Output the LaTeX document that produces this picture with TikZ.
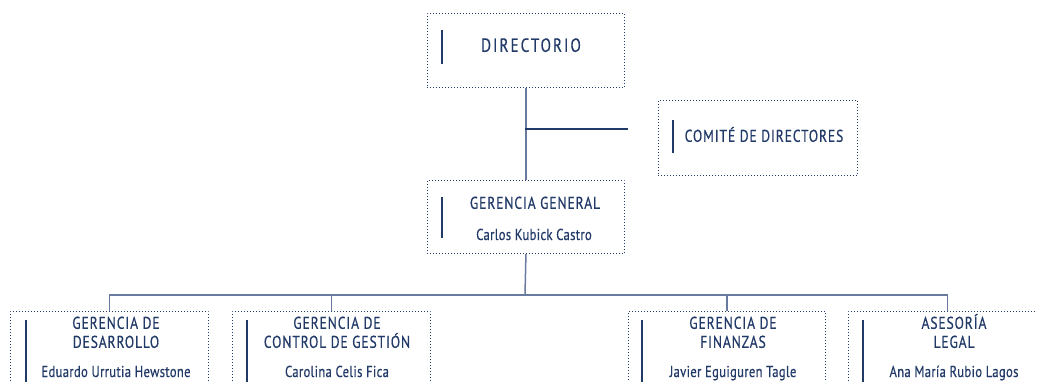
\documentclass[tikz,border=0pt]{standalone}
\usepackage{fontspec}
\setmainfont{PT Sans}[FakeStretch=0.80, FakeBold=0.5]
\usetikzlibrary{positioning}
\definecolor{navyblue}{RGB}{34,58,104}
\definecolor{linkgray}{RGB}{104,122,158}

\tikzset{
    unit/.style={draw=navyblue, line width=0.9pt, dash pattern=on 0.9pt off 2.1pt,
        minimum width=197pt, minimum height=74pt, inner sep=0pt, anchor=north west},
    title/.style={text=navyblue, inner sep=0pt, text depth=0pt, anchor=south, align=center,
        font=\fontsize{17}{19}\selectfont\addfontfeature{LetterSpace=5}},
    person/.style={text=navyblue, inner sep=0pt, anchor=base,
        font=\fontsize{15.8}{17}\selectfont\addfontfeature{LetterSpace=2}},
    bar/.style={draw=navyblue, line width=1.4pt},
    link/.style={draw=linkgray, line width=1.5pt},
}

\begin{document}
\begin{tikzpicture}[x=1pt, y=-1pt]
    \useasboundingbox (0,0) rectangle (1037,381);
    \clip (0,0) rectangle (1037,381);

    % top
    \node[unit] (dir) at (427,13) {};
    \node[title, font=\fontsize{19}{21}\selectfont\addfontfeature{LetterSpace=10.5}] (dirT) at (531,52) {DIRECTORIO};
    \draw[bar] (442,30) -- (442,64);

    \node[unit, minimum width=199pt, minimum height=75pt] (cmt) at (658,100) {};
    \node[title] (cmtT) at (764,142) {COMITÉ DE DIRECTORES};
    \draw[bar] (673,120) -- (673,153);

    \node[unit, minimum height=73pt] (gg) at (427,180) {};
    \node[title] (ggT) at (535,209) {GERENCIA GENERAL};
    \node[person] (ggP) at (534,240) {Carlos Kubick Castro};
    \draw[bar] (442,197) -- (442,238);

    % gerencias
    \node[unit, minimum width=198pt, minimum height=84pt] (des) at (10,311) {};
    \node[title] (desT) at (116,348) {GERENCIA DE\\DESARROLLO};
    \node[person] (desP) at (116,377) {Eduardo Urrutia Hewstone};
    \draw[bar] (26,320) -- (26,390);

    \node[unit, minimum width=198pt, minimum height=84pt] (cg) at (232,311) {};
    \node[title] (cgT) at (337,348) {GERENCIA DE\\CONTROL DE GESTIÓN};
    \node[person] (cgP) at (337,377) {Carolina Celis Fica};
    \draw[bar] (247,320) -- (247,390);

    \node[unit, minimum width=197pt, minimum height=84pt] (fin) at (628,311) {};
    \node[title] (finT) at (733,348) {GERENCIA DE\\FINANZAS};
    \node[person] (finP) at (733,377) {Javier Eguiguren Tagle};
    \draw[bar] (642,320) -- (642,390);

    \node[unit, minimum width=198pt, minimum height=84pt] (leg) at (848,311) {};
    \node[title] (legT) at (954,348) {ASESORÍA\\LEGAL};
    \node[person] (legP) at (954,377) {Ana María Rubio Lagos};
    \draw[bar] (863,320) -- (863,390);

    % connectors
    \coordinate (cmtJoin) at (525,129);
    \coordinate (cmtEnd) at (628,129);
    \coordinate (fork) at (525,295);
    \draw[link] (dir.south) -- (gg.north);
    \draw[bar, line width=1.2pt] (cmtJoin) -- (cmtEnd);
    \draw[link] (gg.south) -- (fork);
    \draw[link] (des.north) |- (fork) -| (leg.north);
    \draw[link] (cg.north) -- (cg.north |- fork);
    \draw[link] (fin.north) -- (fin.north |- fork);
\end{tikzpicture}
\end{document}
